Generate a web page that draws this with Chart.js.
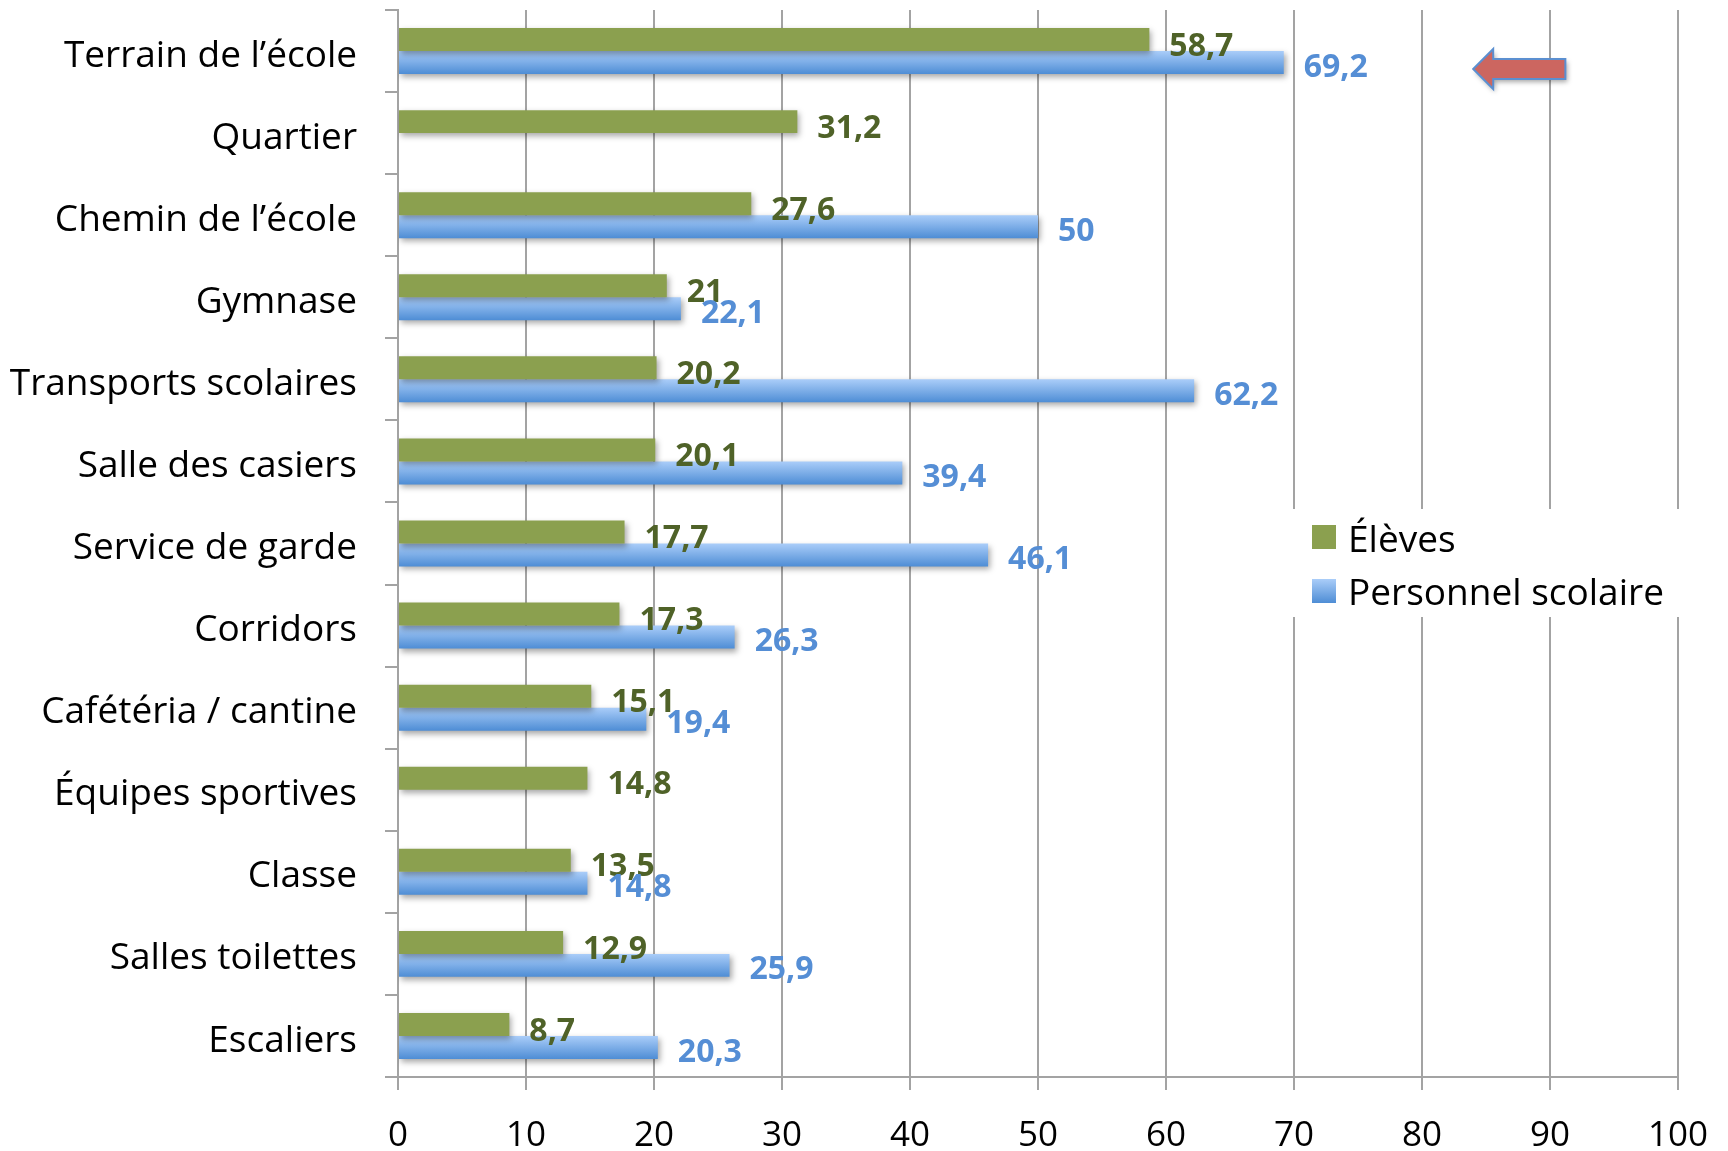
<!DOCTYPE html>
<html>
<head>
<meta charset="utf-8">
<script src="https://cdn.jsdelivr.net/npm/chart.js@4.4.0/dist/chart.umd.min.js"></script>
<style>
  html, body { margin: 0; padding: 0; background: #fff; }
</style>
</head>
<body>
<canvas id="chart" width="1728" height="1151"></canvas>
<script>
const categories = [
  "Terrain de l’école", "Quartier", "Chemin de l’école", "Gymnase",
  "Transports scolaires", "Salle des casiers", "Service de garde", "Corridors",
  "Cafétéria / cantine", "Équipes sportives", "Classe", "Salles toilettes", "Escaliers"
];
const eleves = [58.7, 31.2, 27.6, 21, 20.2, 20.1, 17.7, 17.3, 15.1, 14.8, 13.5, 12.9, 8.7];
const personnel = [69.2, null, 50, 22.1, 62.2, 39.4, 46.1, 26.3, 19.4, null, 14.8, 25.9, 20.3];
const seriesNames = ["Élèves", "Personnel scolaire"];
const xMin = 0, xMax = 100, xStep = 10;

const FONT = "'Open Sans', Lato, sans-serif";
const GRID = "#a3a3a3";
const CAT_PCT = 0.56;

function blueGradient(ctx, top, bottom) {
  const g = ctx.createLinearGradient(0, top, 0, bottom);
  g.addColorStop(0, "#aacdf9");
  g.addColorStop(1, "#4e8dd5");
  return g;
}

function blueFill(context) {
  const chart = context.chart;
  const y = chart.scales.y;
  if (!y || context.dataIndex === undefined) return "#7fb0ea";
  const c = y.getPixelForValue(context.dataIndex);
  const step = y.getPixelForValue(1) - y.getPixelForValue(0);
  if (!isFinite(c) || !isFinite(step)) return "#7fb0ea";
  return blueGradient(chart.ctx, c, c + step * CAT_PCT / 2);
}

// soft drop shadow under the bars
const barShadow = {
  id: "barShadow",
  beforeDatasetsDraw(chart) {
    const ctx = chart.ctx;
    ctx.save();
    ctx.shadowColor = "rgba(0,0,0,0.35)";
    ctx.shadowBlur = 6;
    ctx.shadowOffsetX = 2;
    ctx.shadowOffsetY = 3;
  },
  afterDatasetsDraw(chart) {
    chart.ctx.restore();
  }
};

const valueLabels = {
  id: "valueLabels",
  afterDatasetsDraw(chart) {
    const ctx = chart.ctx;
    ctx.save();
    ctx.font = "bold 32px " + FONT;
    ctx.textBaseline = "middle";
    ctx.textAlign = "left";
    chart.data.datasets.forEach((ds, i) => {
      const meta = chart.getDatasetMeta(i);
      meta.data.forEach((bar, j) => {
        const v = ds.data[j];
        if (v == null) return;
        ctx.fillStyle = ds.labelColor;
        ctx.fillText(String(v).replace(".", ","), bar.x + 20, bar.y + ds.labelDy);
      });
    });
    ctx.restore();
  }
};

// legend box over the grid and the red arrow
const extras = {
  id: "extras",
  afterDraw(chart) {
    const ctx = chart.ctx;
    const { x, y } = chart.scales;

    // arrow pointing at the first row
    const ay = y.getPixelForValue(0) + 18;
    const tip = x.getPixelForValue(84);
    const tail = x.getPixelForValue(91.2);
    const headX = tip + 20;
    ctx.save();
    ctx.shadowColor = "rgba(0,0,0,0.35)";
    ctx.shadowBlur = 5;
    ctx.shadowOffsetX = 2;
    ctx.shadowOffsetY = 3;
    ctx.beginPath();
    ctx.moveTo(tip, ay);
    ctx.lineTo(headX, ay - 20);
    ctx.lineTo(headX, ay - 10);
    ctx.lineTo(tail, ay - 10);
    ctx.lineTo(tail, ay + 10);
    ctx.lineTo(headX, ay + 10);
    ctx.lineTo(headX, ay + 20);
    ctx.closePath();
    ctx.fillStyle = "#cc6660";
    ctx.fill();
    ctx.shadowColor = "transparent";
    ctx.lineWidth = 2;
    ctx.strokeStyle = "#5b8fd0";
    ctx.stroke();
    ctx.restore();

    // legend
    ctx.save();
    ctx.fillStyle = "#fff";
    ctx.fillRect(1292, 509, 394, 108);
    ctx.font = "37px " + FONT;
    ctx.textBaseline = "middle";
    ctx.textAlign = "left";
    ctx.fillStyle = "#8ba04f";
    ctx.fillRect(1312, 525, 24, 24);
    ctx.fillStyle = blueGradient(ctx, 579, 603);
    ctx.fillRect(1312, 579, 24, 24);
    ctx.fillStyle = "#000";
    ctx.fillText(seriesNames[0], 1348, 541);
    ctx.fillText(seriesNames[1], 1348, 594);
    ctx.restore();
  }
};

new Chart(document.getElementById("chart"), {
  type: "bar",
  data: {
    labels: categories,
    datasets: [
      {
        label: seriesNames[0],
        data: eleves,
        backgroundColor: "#8ba04f",
        labelColor: "#4f6228",
        labelDy: 7
      },
      {
        label: seriesNames[1],
        data: personnel,
        backgroundColor: blueFill,
        labelColor: "#558ed5",
        labelDy: 5
      }
    ]
  },
  options: {
    indexAxis: "y",
    responsive: false,
    animation: false,
    datasets: { bar: { barPercentage: 1, categoryPercentage: CAT_PCT } },
    layout: { padding: { top: 10, right: 50, left: 0, bottom: 0 } },
    plugins: { legend: { display: false }, tooltip: { enabled: false } },
    scales: {
      x: {
        min: xMin, max: xMax,
        ticks: { stepSize: xStep, color: "#000", font: { family: FONT, size: 35 }, padding: 25 },
        grid: { color: GRID, lineWidth: 2, tickLength: 13 },
        border: { color: GRID, width: 2 },
        afterFit(s) { s.height = 74; s.paddingLeft = 0; s.paddingRight = 0; }
      },
      y: {
        ticks: { color: "#000", font: { family: FONT, size: 37 }, padding: 28, labelOffset: 5 },
        grid: { drawOnChartArea: false, color: GRID, lineWidth: 2, tickLength: 13 },
        border: { color: GRID, width: 2 },
        afterFit(s) { s.width = 398; s.paddingTop = 0; s.paddingBottom = 0; }
      }
    }
  },
  plugins: [barShadow, valueLabels, extras]
});
</script>
</body>
</html>
